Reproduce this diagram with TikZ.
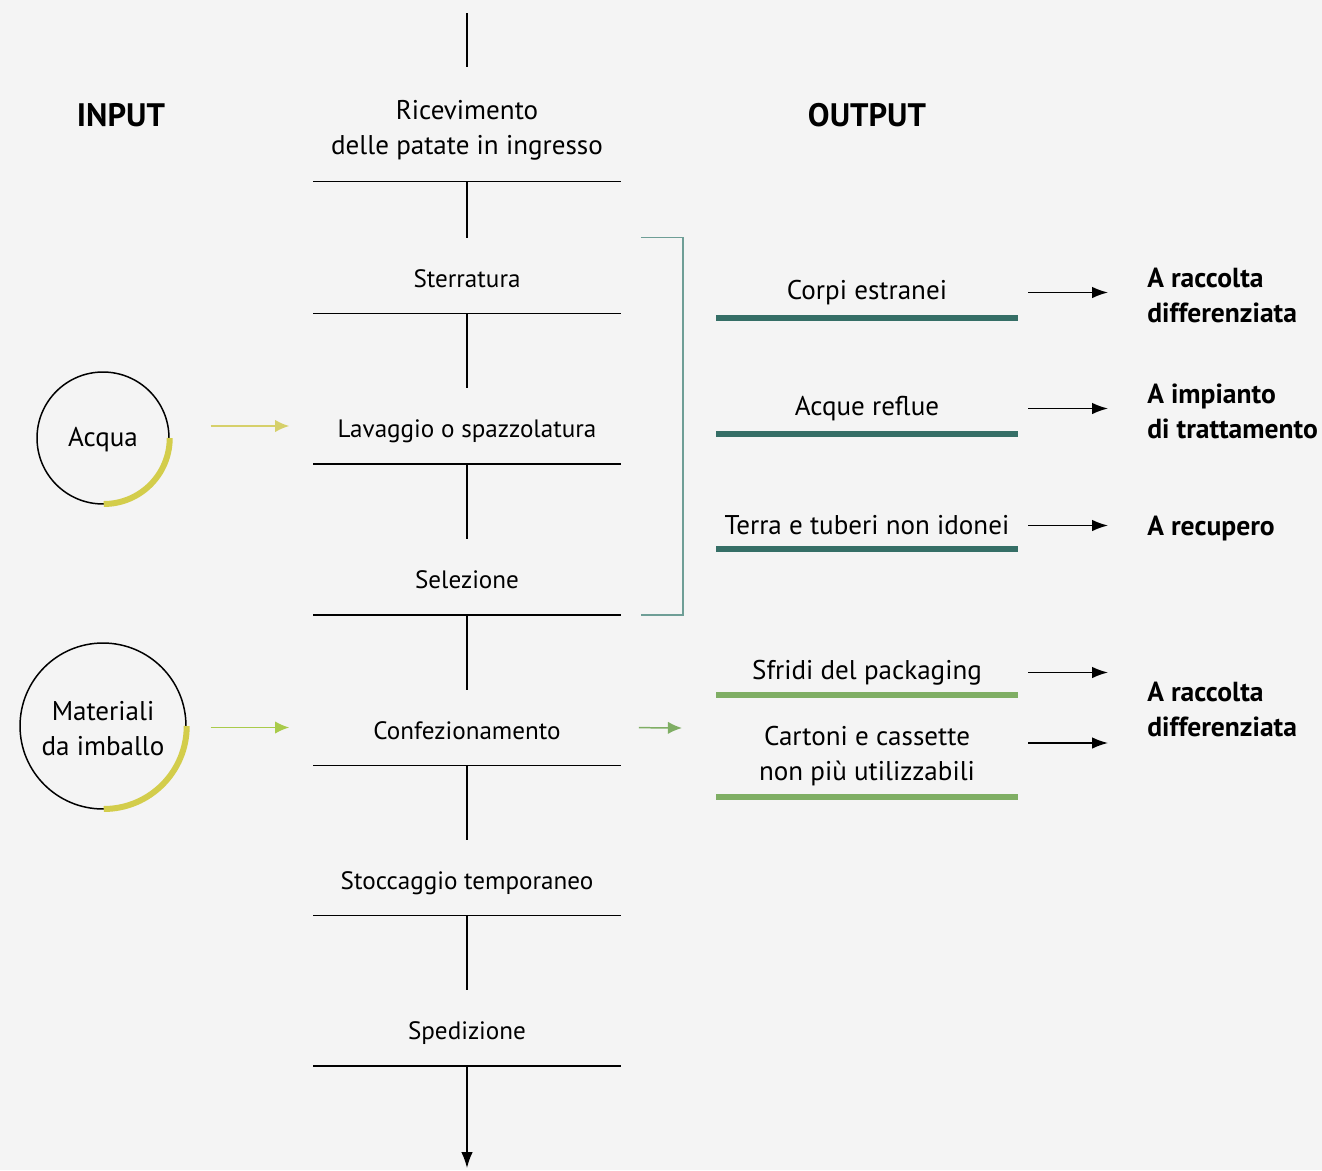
\documentclass[tikz,border=0pt]{standalone}
\usepackage{fontspec}
\setmainfont{PT Sans}
\usetikzlibrary{arrows.meta}

\definecolor{sfondo}{HTML}{F4F4F4}
\definecolor{giallo}{HTML}{D3CD4B}
\definecolor{gialloacqua}{HTML}{D6D06A}
\definecolor{verdechiaro}{HTML}{A9CB4A}
\definecolor{verdeoutput}{HTML}{7FAE64}
\definecolor{petrolio}{HTML}{356E66}
\definecolor{parentesi}{HTML}{6E9E96}

\begin{document}
\begin{tikzpicture}[x=0.02cm,y=-0.02cm]
  \tikzstyle{every node}=[inner sep=0pt,align=center]
  \tikzstyle{phase}=[minimum width=6.14cm,minimum height=1.5cm,text height=16.6pt,text depth=3pt,font=\fontsize{14.3}{20}\selectfont]
  \tikzstyle{testo}=[font=\fontsize{15.4}{20}\selectfont]
  \tikzstyle{titolo}=[font=\fontsize{18.5}{20}\selectfont\bfseries]
  \tikzstyle{destino}=[anchor=west,align=left,font=\fontsize{15.7}{20}\selectfont\bfseries]
  \tikzstyle{uscita}=[minimum width=6.04cm,font=\fontsize{15.4}{20}\selectfont]
  \tikzstyle{tratto}=[line width=0.85pt]
  \tikzstyle{freccia}=[line width=0.85pt,-{Latex[length=9pt,width=6.5pt]}]
  \tikzstyle{ingresso}=[line width=0.85pt,-{Latex[length=8pt,width=7pt]},shorten >=0.48cm]
  \tikzstyle{arco}=[line width=3.4pt,giallo]
  \tikzstyle{barra}=[line width=3.4pt]

\fill[sfondo] (0,0) rectangle (1322,1170);

% colonna delle fasi
\coordinate (inizio) at (467,13);
\node[phase,minimum height=2.28cm,text height=39pt,text depth=4pt,testo] (ric) at (467,124) {Ricevimento\\delle patate in ingresso};
\node[phase] (sterr) at (467,275.5) {Sterratura};
\node[phase] (lav) at (467,426) {Lavaggio o spazzolatura};
\node[phase] (sel) at (467,577) {Selezione};
\node[phase] (conf) at (467,727.5) {Confezionamento};
\node[phase] (stocc) at (467,877.5) {Stoccaggio temporaneo};
\node[phase] (sped) at (467,1028) {Spedizione};
\coordinate (fine) at (467,1168);

\foreach \f in {ric,sterr,lav,sel,conf,stocc,sped}
  \draw[tratto] (\f.south west) -- (\f.south east);

\draw[tratto] (inizio) -- (ric.north);
\draw[tratto] (ric.south) -- (sterr.north);
\draw[tratto] (sterr.south) -- (lav.north);
\draw[tratto] (lav.south) -- (sel.north);
\draw[tratto] (sel.south) -- (conf.north);
\draw[tratto] (conf.south) -- (stocc.north);
\draw[tratto] (stocc.south) -- (sped.north);
\draw[freccia] (sped.south) -- (fine);

% input
\node[titolo] (input) at (121,115) {INPUT};
\node[draw,circle,tratto,minimum size=2.64cm,text height=13pt,text depth=3pt,testo] (acqua) at (103,438) {Acqua};
\draw[arco] (acqua.east) arc[start angle=0,end angle=-90,radius=1.32cm];
\node[draw,circle,tratto,minimum size=3.32cm,text height=34pt,text depth=0pt,testo] (mat) at (103,726) {Materiali\\da imballo};
\draw[arco] (mat.east) arc[start angle=0,end angle=-90,radius=1.66cm];

\draw[ingresso,gialloacqua,shorten <=0.82cm] (acqua.east |- lav.west) -- (lav.west);
\draw[ingresso,verdechiaro,shorten <=0.48cm] (mat.east |- conf.west) -- (conf.west);

% output
\node[titolo] (output) at (867,115) {OUTPUT};
\draw[line width=0.85pt,parentesi] ([xshift=0.4cm]sterr.north east) -- ++(0.84cm,0) |- ([xshift=0.4cm]sel.south east);
\coordinate (imballi) at (682,728);
\draw[ingresso,verdeoutput,shorten >=0pt,shorten <=0.36cm] (conf.east) -- (imballi);

\node[uscita] (corpi) at (867,292.5) {Corpi estranei};
\node[uscita] (reflue) at (867,408.5) {Acque reflue};
\node[uscita] (terra) at (867,525.5) {Terra e tuberi non idonei};
\node[uscita] (sfridi) at (867,672.5) {Sfridi del packaging};
\node[uscita] (cartoni) at (867,756) {Cartoni e cassette\\non più utilizzabili};

\draw[barra,petrolio] (716,318) -- (1018,318);
\draw[barra,petrolio] (716,434) -- (1018,434);
\draw[barra,petrolio] (716,549) -- (1018,549);
\draw[barra,verdeoutput] (716,695) -- (1018,695);
\draw[barra,verdeoutput] (716,797) -- (1018,797);

\node[destino] (racc1) at (1147,295.5) {A raccolta\\differenziata};
\node[destino] (imp) at (1147,411.5) {A impianto\\di trattamento};
\node[destino] (recu) at (1147,529) {A recupero};
\node[destino] (racc2) at (1147,709.5) {A raccolta\\differenziata};

\draw[freccia,shorten <=0.2cm,shorten >=0.78cm] (corpi.east) -- (corpi.east -| racc1.west);
\draw[freccia,shorten <=0.2cm,shorten >=0.78cm] (reflue.east) -- (reflue.east -| imp.west);
\draw[freccia,shorten <=0.2cm,shorten >=0.78cm] (terra.east) -- (terra.east -| recu.west);
\draw[freccia,shorten <=0.2cm,shorten >=0.78cm] (sfridi.east) -- (sfridi.east -| racc2.west);
\draw[freccia,shorten <=0.2cm,shorten >=0.78cm] ([yshift=0.26cm]cartoni.east) -- ([yshift=0.26cm]cartoni.east -| racc2.west);
\end{tikzpicture}
\end{document}
